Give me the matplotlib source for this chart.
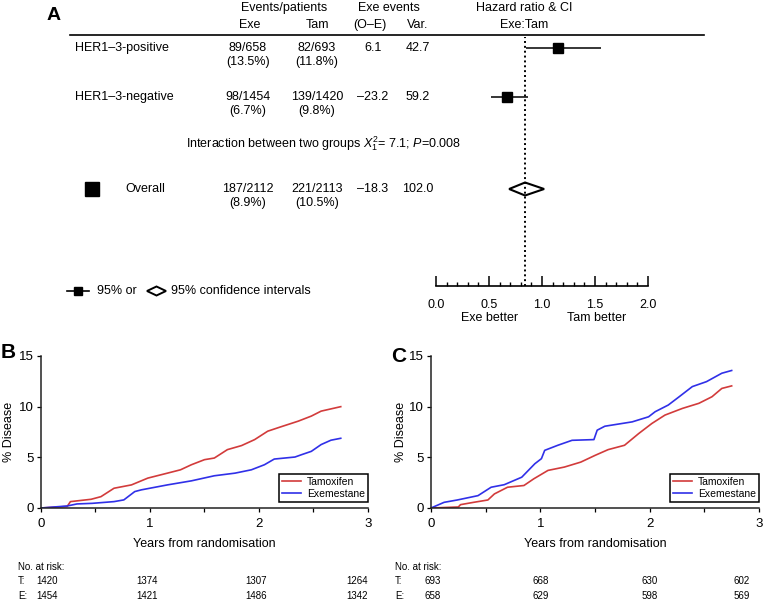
import matplotlib
matplotlib.use("Agg")
import matplotlib.pyplot as plt
from matplotlib.patches import Polygon

plt.rcParams['font.family'] = ['Liberation Sans', 'DejaVu Sans']
plt.rcParams['mathtext.fontset'] = 'custom'
plt.rcParams['mathtext.rm'] = 'Liberation Sans'
plt.rcParams['mathtext.it'] = 'Liberation Sans:italic'
plt.rcParams['font.size'] = 9

W, H = 763, 602

# ---- panel A: forest plot ----
groups = ["HER1\u20133-positive", "HER1\u20133-negative"]
exe_events = ["89/658", "98/1454"]
exe_pct = ["(13.5%)", "(6.7%)"]
tam_events = ["82/693", "139/1420"]
tam_pct = ["(11.8%)", "(9.8%)"]
o_minus_e = ["6.1", "\u201323.2"]
variance = ["42.7", "59.2"]
hr = [1.15, 0.67]
hr_lo = [0.85, 0.52]
hr_hi = [1.56, 0.87]

overall_exe = ["187/2112", "(8.9%)"]
overall_tam = ["221/2113", "(10.5%)"]
overall_oe = "\u201318.3"
overall_var = "102.0"
overall_hr = 0.84
overall_lo = 0.69
overall_hi = 1.02

# ---- panel B: HER1-3-negative ----
b_t_tam = [0, 0.24, 0.27, 0.46, 0.55, 0.67, 0.83, 0.98, 1.16, 1.28, 1.38, 1.50, 1.59,
           1.71, 1.84, 1.96, 2.08, 2.20, 2.36, 2.48, 2.57, 2.75]
b_d_tam = [0, 0.15, 0.63, 0.86, 1.12, 1.95, 2.28, 2.95, 3.44, 3.77, 4.27, 4.77, 4.93,
           5.76, 6.16, 6.75, 7.58, 8.01, 8.57, 9.07, 9.56, 10.0]
b_t_exe = [0, 0.24, 0.33, 0.47, 0.67, 0.76, 0.86, 0.92, 1.16, 1.38, 1.59, 1.78, 1.93,
           2.05, 2.14, 2.33, 2.39, 2.48, 2.57, 2.66, 2.75]
b_d_exe = [0, 0.2, 0.40, 0.46, 0.63, 0.8, 1.62, 1.79, 2.28, 2.68, 3.18, 3.44, 3.77,
           4.27, 4.83, 5.03, 5.26, 5.59, 6.26, 6.69, 6.88]
b_risk_t = ["1420", "1374", "1307", "1264"]
b_risk_e = ["1454", "1421", "1486", "1342"]

# ---- panel C: HER1-3-positive ----
c_t_tam = [0, 0.25, 0.27, 0.39, 0.52, 0.58, 0.70, 0.85, 0.94, 1.07, 1.22, 1.37, 1.50,
           1.62, 1.77, 1.90, 2.02, 2.14, 2.30, 2.45, 2.57, 2.66, 2.75]
c_d_tam = [0, 0.1, 0.33, 0.56, 0.79, 1.39, 2.05, 2.22, 2.88, 3.71, 4.04, 4.53, 5.19,
           5.76, 6.19, 7.35, 8.34, 9.17, 9.83, 10.33, 10.98, 11.8, 12.05]
c_t_exe = [0, 0.12, 0.24, 0.43, 0.55, 0.67, 0.83, 0.95, 1.01, 1.04, 1.16, 1.29, 1.49,
           1.52, 1.59, 1.84, 1.99, 2.05, 2.17, 2.27, 2.39, 2.52, 2.66, 2.75]
c_d_exe = [0, 0.56, 0.79, 1.22, 2.05, 2.3, 3.04, 4.37, 4.87, 5.69, 6.19, 6.68, 6.75,
           7.68, 8.07, 8.5, 9.0, 9.5, 10.16, 10.98, 11.98, 12.47, 13.3, 13.57]
c_risk_t = ["693", "668", "630", "602"]
c_risk_e = ["658", "629", "598", "569"]

red = "#d23b3b"
blue = "#3030e8"


def rect(left, top, right, bottom):
    return [left / W, 1 - bottom / H, (right - left) / W, (bottom - top) / H]


fig = plt.figure(figsize=(W / 100, H / 100), dpi=100)

# overlay in pixel coordinates for table text and annotations
ov = fig.add_axes([0, 0, 1, 1])
ov.set_xlim(0, W)
ov.set_ylim(H, 0)
ov.axis("off")

# ---------- panel A ----------
ov.text(54, 16, "A", fontsize=14, fontweight="bold", ha="center", va="center")
ov.text(284, 8, "Events/patients", ha="center", va="center")
ov.text(250, 25, "Exe", ha="center", va="center")
ov.text(317, 25, "Tam", ha="center", va="center")
ov.text(389, 8, "Exe events", ha="center", va="center")
ov.text(370, 25, "(O\u2013E)", ha="center", va="center")
ov.text(418, 25, "Var.", ha="center", va="center")
ov.text(524, 8, "Hazard ratio & CI", ha="center", va="center")
ov.text(524, 25, "Exe:Tam", ha="center", va="center")
ov.plot([70, 704], [35, 35], color="k", lw=1.2)

row_y = [48, 97]
for i, g in enumerate(groups):
    y = row_y[i]
    ov.text(75, y, g, ha="left", va="center")
    ov.text(248, y, exe_events[i], ha="center", va="center")
    ov.text(248, y + 14, exe_pct[i], ha="center", va="center")
    ov.text(317, y, tam_events[i], ha="center", va="center")
    ov.text(317, y + 14, tam_pct[i], ha="center", va="center")
    ov.text(373, y, o_minus_e[i], ha="center", va="center")
    ov.text(418, y, variance[i], ha="center", va="center")

ov.text(324, 144, r"Interaction between two groups $\it{X}_1^2$= 7.1; $\it{P}$=0.008",
        ha="center", va="center")

oy = 189
ov.plot(92, oy, "s", ms=10, color="k")
ov.text(125, oy, "Overall", ha="left", va="center")
ov.text(248, oy, overall_exe[0], ha="center", va="center")
ov.text(248, oy + 14, overall_exe[1], ha="center", va="center")
ov.text(317, oy, overall_tam[0], ha="center", va="center")
ov.text(317, oy + 14, overall_tam[1], ha="center", va="center")
ov.text(373, oy, overall_oe, ha="center", va="center")
ov.text(418, oy, overall_var, ha="center", va="center")

# legend for the forest symbols
ov.plot([67, 89], [291, 291], color="k", lw=1.2)
ov.plot(78, 291, "s", ms=6, color="k")
ov.text(97, 291, "95% or", ha="left", va="center")
ov.add_patch(Polygon([(147, 291), (156.5, 286.5), (166, 291), (156.5, 295.5)],
                     closed=True, fill=False, ec="k", lw=1.4))
ov.text(171, 291, "95% confidence intervals", ha="left", va="center")

# forest axis (x = hazard ratio)
ax_f = fig.add_axes(rect(436, 37, 648, 286))
ax_f.set_xlim(0, 2)
ax_f.set_ylim(286, 37)
ax_f.patch.set_visible(False)
for s in ["top", "left", "right"]:
    ax_f.spines[s].set_visible(False)
ax_f.spines["bottom"].set_linewidth(1.2)
ax_f.set_yticks([])
ax_f.set_xticks([0, 0.5, 1.0, 1.5, 2.0])
ax_f.set_xticklabels(["0.0", "0.5", "1.0", "1.5", "2.0"])
ax_f.set_xticks([i / 10 for i in range(21)], minor=True)
ax_f.tick_params(axis="x", which="major", direction="in", length=7, width=1.1, pad=9)
ax_f.tick_params(axis="x", which="minor", direction="in", length=3, width=1.0)

ax_f.axvline(overall_hr, ls=(0, (1, 1.5)), color="k", lw=1.4, zorder=1)
ax_f.hlines(row_y, hr_lo, hr_hi, color="k", lw=1.1, zorder=2)
ax_f.plot(hr, row_y, "s", ms=7.5, color="k", zorder=3)
ax_f.add_patch(Polygon([(overall_lo, oy), (overall_hr, oy - 6.5), (overall_hi, oy),
                        (overall_hr, oy + 6.5)], closed=True, fill=False, ec="k", lw=1.5,
                       zorder=3))
ov.text(490, 318, "Exe better", ha="center", va="center")
ov.text(597, 318, "Tam better", ha="center", va="center")


# ---------- panels B and C ----------
def km_panel(box, t_tam, d_tam, t_exe, d_exe, ylab_x):
    ax = fig.add_axes(box)
    ax.plot(t_tam, d_tam, color=red, lw=1.2, label="Tamoxifen")
    ax.plot(t_exe, d_exe, color=blue, lw=1.2, label="Exemestane")
    ax.set_xlim(0, 3)
    ax.set_ylim(0, 15)
    ax.set_xticks([0, 1, 2, 3])
    ax.set_xticks([0.5, 1.5, 2.5], minor=True)
    ax.set_yticks([0, 5, 10, 15])
    ax.spines["top"].set_visible(False)
    ax.spines["right"].set_visible(False)
    for s in ["left", "bottom"]:
        ax.spines[s].set_linewidth(1.1)
        ax.spines[s].set_color("#222222")
    ax.tick_params(which="both", length=3, width=0.9, pad=2, labelsize=9.5)
    ax.tick_params(axis="x", pad=4)
    ax.set_ylabel("% Disease")
    ax.yaxis.set_label_coords(ylab_x, 0.5)
    ax.set_xlabel("Years from randomisation")
    ax.xaxis.set_label_coords(0.5, -0.2)
    leg = ax.legend(loc="lower right", bbox_to_anchor=(1.0, 0.04), fontsize=7.5,
                    fancybox=False, edgecolor="k", framealpha=1, handlelength=1.8,
                    borderpad=0.3, labelspacing=0.2, handletextpad=0.6,
                    borderaxespad=0)
    leg.get_frame().set_linewidth(1.1)
    return ax


ax_b = km_panel(rect(41, 356, 368, 508), b_t_tam, b_d_tam, b_t_exe, b_d_exe, -0.078)
ax_c = km_panel(rect(431, 356, 759, 508), c_t_tam, c_d_tam, c_t_exe, c_d_exe, -0.072)

ov.text(1, 352, "B", fontsize=15, fontweight="bold", ha="left", va="center")
ov.text(391, 357, "C", fontsize=15, fontweight="bold", ha="left", va="center")

ov.text(240, 380, "HR = 0.67", ha="left", va="center")
ov.text(240, 395, "95% CI, 0.52\u20130.87", ha="left", va="center")
ov.text(558, 370, "HR = 1.15", ha="left", va="center")
ov.text(558, 384, "95% CI, 0.85\u20131.56", ha="left", va="center")

# numbers at risk
risk_fs = 7
b_cols = [47.5, 147, 256, 357.5]
c_cols = [432.5, 541, 650, 741.5]
for x0, cols, rt, re in [(18, b_cols, b_risk_t, b_risk_e), (395, c_cols, c_risk_t, c_risk_e)]:
    ov.text(x0, 567, "No. at risk:", fontsize=risk_fs, ha="left", va="center")
    ov.text(x0, 581, "T:", fontsize=risk_fs, ha="left", va="center")
    ov.text(x0, 596, "E:", fontsize=risk_fs, ha="left", va="center")
    for cx, a, b in zip(cols, rt, re):
        ov.text(cx, 581, a, fontsize=risk_fs, ha="center", va="center")
        ov.text(cx, 596, b, fontsize=risk_fs, ha="center", va="center")

fig.savefig("out.png", dpi=100)
